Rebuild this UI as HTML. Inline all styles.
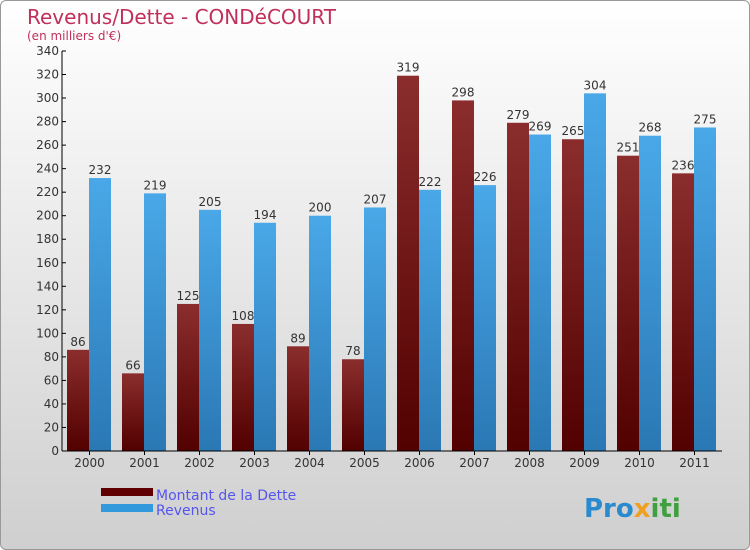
<!DOCTYPE html>
<html><head><meta charset="utf-8"><style>
body{margin:0;}
#c{width:748px;height:548px;border:1px solid #999;border-radius:6px;background:linear-gradient(#ffffff,#cfcfcf);position:relative;overflow:hidden;font-family:"DejaVu Sans","Liberation Sans",sans-serif;}
</style></head><body>
<div id="c">
<svg id="s" width="748" height="548">
<defs>
<linearGradient id="gd" x1="0" y1="0" x2="0" y2="1"><stop offset="0" stop-color="#8b2d2d"/><stop offset="1" stop-color="#520000"/></linearGradient>
<linearGradient id="gr" x1="0" y1="0" x2="0" y2="1"><stop offset="0" stop-color="#4aa8e8"/><stop offset="1" stop-color="#2a78b4"/></linearGradient>
</defs>
<text x="26" y="23" font-size="20" fill="#c0305a">Revenus/Dette - CONDéCOURT</text>
<text x="26" y="39" font-size="12" fill="#c0305a">(en milliers d'€)</text>
<g id="bars"></g><g id="axes"></g>
<rect x="100" y="487" width="52" height="8" fill="#600000"/>
<rect x="100" y="503" width="52" height="8" fill="#3399dd"/>
<text x="155" y="499" font-size="14" fill="#5555ee">Montant de la Dette</text>
<text x="155" y="514" font-size="14" fill="#5555ee">Revenus</text>
<text x="583" y="516" font-size="26" font-weight="bold" fill="#2a8ad0">Pro<tspan fill="#f0a020">x</tspan><tspan fill="#40a040">iti</tspan></text>
</svg></div>
<script>
const years=["2000","2001","2002","2003","2004","2005","2006","2007","2008","2009","2010","2011"];
const dette=[86,66,125,108,89,78,319,298,279,265,251,236];
const revenus=[232,219,205,194,200,207,222,226,269,304,268,275];
const ticks=[0,20,40,60,80,100,120,140,160,180,200,220,240,260,280,300,320,340];
const NS="http://www.w3.org/2000/svg";
const x0=61,gw=55,y0=450,ymax=340,ph=400;
const Y=v=>y0-v/ymax*ph;
function mk(t,a,p){const e=document.createElementNS(NS,t);for(const k in a)e.setAttribute(k,a[k]);p.appendChild(e);return e;}
const B=document.getElementById('bars'),A=document.getElementById('axes');
years.forEach((yr,i)=>{
  const gx=x0+i*gw+5;
  [[dette[i],'url(#gd)','bar-dette',0],[revenus[i],'url(#gr)','bar-revenus',22]].forEach(([v,f,n,off])=>{
    const r=mk('rect',{x:gx+off,y:Y(v),width:22,height:y0-Y(v),fill:f},B);
    
    
    const t=mk('text',{x:gx+off+11,y:Y(v)-4,'font-size':12,'text-anchor':'middle',fill:'#333'},B);
    t.textContent=v;
    
    
  });
  const l=mk('text',{x:x0+i*gw+gw/2,y:466,'font-size':12,'text-anchor':'middle',fill:'#333'},A);
  l.textContent=yr;
  
  
  mk('line',{x1:x0+i*gw+gw/2,x2:x0+i*gw+gw/2,y1:y0,y2:y0+4,stroke:'#000'},A);
});
ticks.forEach(v=>{
  mk('line',{x1:x0,x2:x0+4,y1:Y(v),y2:Y(v),stroke:'#000'},A);
  const t=mk('text',{x:x0-3,y:Y(v)+4,'font-size':12,'text-anchor':'end',fill:'#333'},A);
  t.textContent=v;
  
  
});
const ya=mk('line',{x1:x0,x2:x0,y1:50,y2:y0,stroke:'#000'},A);


const xa=mk('line',{x1:x0,x2:721,y1:y0,y2:y0,stroke:'#000'},A);


</script></body></html>
